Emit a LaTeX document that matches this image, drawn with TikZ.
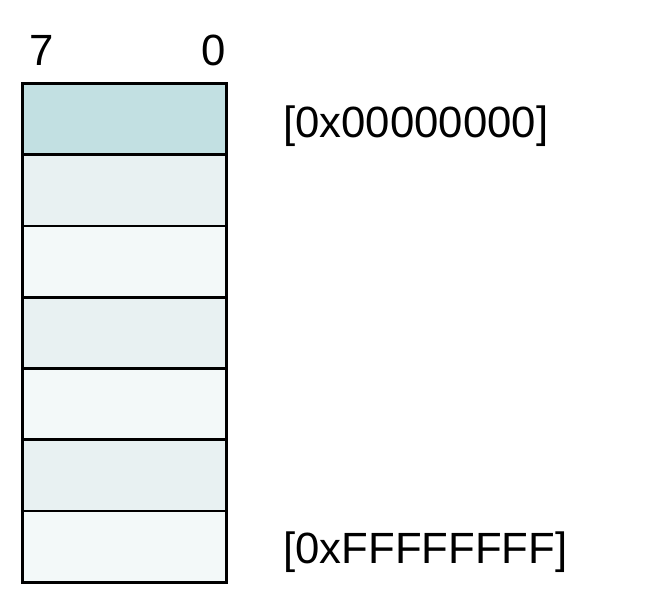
\documentclass[tikz,border=0pt]{standalone}
\usepackage{fontspec}
\setmainfont{Liberation Sans}
\definecolor{rowtop}{HTML}{C2E0E2}
\definecolor{rowdark}{HTML}{E8F1F2}
\definecolor{rowlight}{HTML}{F3F9F9}
\begin{document}
\begin{tikzpicture}[x=0.75pt,y=-0.75pt,
  cell/.style={draw=black,line width=2pt,minimum width=153pt,minimum height=53.4pt,inner sep=0pt,anchor=north west},
  lbl/.style={inner sep=0pt,font=\fontsize{32.8}{36}\selectfont}]
\useasboundingbox (0,0) rectangle (654,608);
\node[cell,fill=rowtop]   (r1) at (21,82) {};
\node[cell,fill=rowdark]  (r2) at (21,153.3) {};
\node[cell,fill=rowlight] (r3) at (21,224.6) {};
\node[cell,fill=rowdark]  (r4) at (21,295.9) {};
\node[cell,fill=rowlight] (r5) at (21,367.2) {};
\node[cell,fill=rowdark]  (r6) at (21,438.5) {};
\node[cell,fill=rowlight] (r7) at (21,509.8) {};
\node[lbl,anchor=base] (b7) at (42,65) {7};
\node[lbl,anchor=base] (b0) at (214,65) {0};
\node[lbl,anchor=base west] (a0) at (283,137) {[0x00000000]};
\node[lbl,anchor=base west] (af) at (283,563) {[0xFFFFFFFF]};
\end{tikzpicture}
\end{document}
